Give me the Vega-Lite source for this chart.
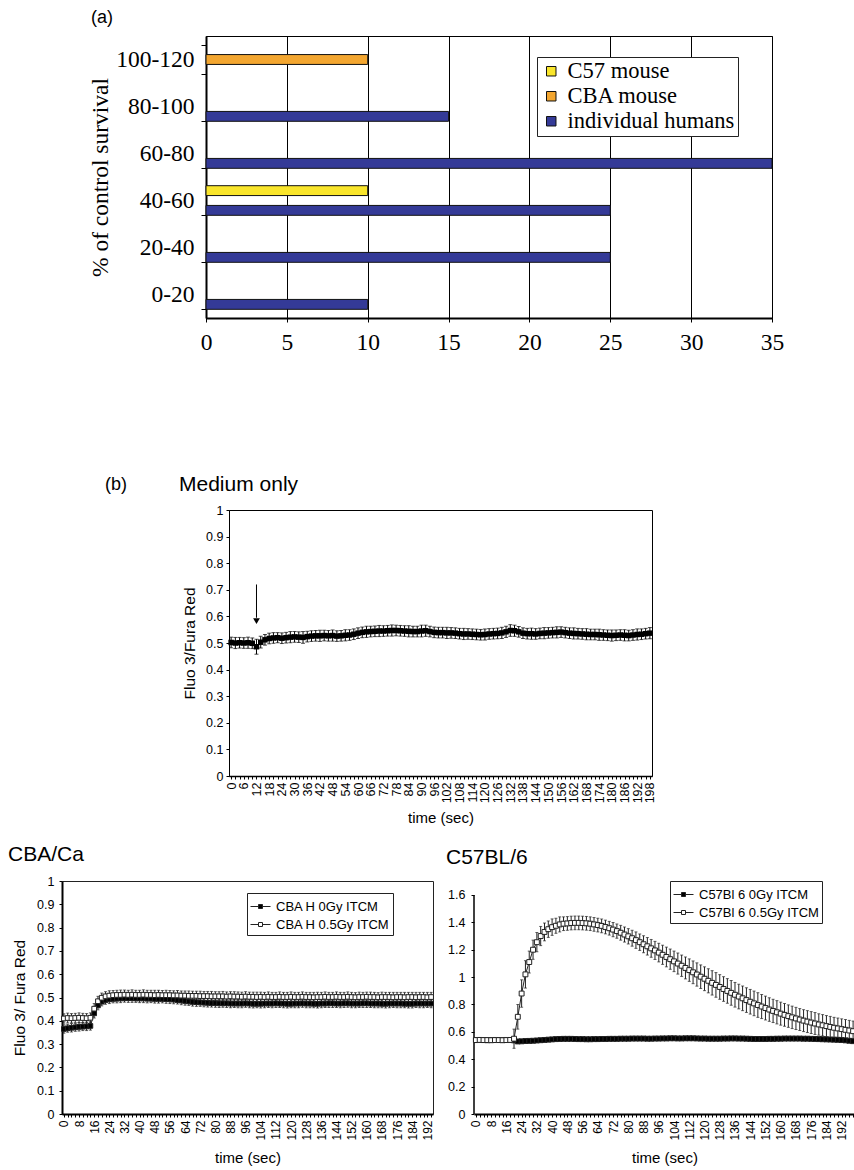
{
"$schema": "https://vega.github.io/schema/vega-lite/v6.json",
"background": "white",
"padding": {"left": 7, "top": 8, "right": 0, "bottom": 0},
"spacing": 16,
"resolve": {"scale": {"color": "independent", "fill": "independent"}, "legend": {"color": "independent", "fill": "independent"}},
"config": {
  "view": {"stroke": null},
  "font": "Liberation Sans",
  "axis": {"grid": false, "labelColor": "black", "titleColor": "black", "domainColor": "black", "tickColor": "black", "titleFontWeight": "normal", "labelFont": "Liberation Sans", "titleFont": "Liberation Sans"},
  "title": {"fontWeight": "normal", "color": "black", "font": "Liberation Sans"},
  "legend": {"labelColor": "black", "labelFont": "Liberation Sans"}
},
"vconcat": [
{
  "resolve": {"scale": {"color": "independent", "fill": "independent"}, "legend": {"color": "independent", "fill": "independent"}},
  "hconcat": [
    {"width": 144, "height": 1, "data": {"values": [{}]}, "mark": {"type": "point", "opacity": 0}},
    {
      "width": 566, "height": 282,
      "view": {"stroke": "black", "strokeWidth": 1},
      "title": {"text": "(a)", "anchor": "start", "frame": "group", "dx": -115, "offset": -17, "fontSize": 18, "baseline": "alphabetic"},
      "data": {"values": [
        {"range": "0-20", "group": "individual humans", "pct": 10},
        {"range": "20-40", "group": "individual humans", "pct": 25},
        {"range": "40-60", "group": "individual humans", "pct": 25},
        {"range": "40-60", "group": "C57 mouse", "pct": 10},
        {"range": "60-80", "group": "individual humans", "pct": 35},
        {"range": "80-100", "group": "individual humans", "pct": 15},
        {"range": "100-120", "group": "CBA mouse", "pct": 10}
      ]},
      "mark": {"type": "bar", "stroke": "#111", "strokeWidth": 1},
      "encoding": {
        "x": {"field": "pct", "type": "quantitative", "scale": {"domain": [0, 35], "nice": false},
              "axis": {"values": [0, 5, 10, 15, 20, 25, 30, 35], "grid": true, "gridColor": "black", "gridOpacity": 1, "gridWidth": 1,
                       "labelFont": "Liberation Serif", "labelFontSize": 23.5, "tickSize": 4, "labelPadding": 8, "domainWidth": 2, "labelFlush": false, "title": null}},
        "y": {"field": "range", "type": "nominal", "sort": ["100-120", "80-100", "60-80", "40-60", "20-40", "0-20"],
              "scale": {"paddingInner": 0.37, "paddingOuter": 0.185},
              "axis": {"tickBand": "extent", "tickSize": 5, "labelFont": "Liberation Serif", "labelFontSize": 23.5, "labelPadding": 7, "domainWidth": 2,
                       "title": "% of control survival", "titleFont": "Liberation Serif", "titleFontSize": 23.5, "titlePadding": 3}},
        "yOffset": {"field": "group", "type": "nominal", "sort": ["C57 mouse", "CBA mouse", "individual humans"]},
        "color": {"field": "group", "type": "nominal",
                  "scale": {"domain": ["C57 mouse", "CBA mouse", "individual humans"], "range": ["#f9e52b", "#f3a630", "#343a97"]},
                  "legend": {"title": null, "orient": "none", "legendX": 331, "legendY": 21, "strokeColor": "#222", "fillColor": "white", "padding": 3,
                             "labelFont": "Liberation Serif", "labelFontSize": 22.5, "symbolType": "square", "symbolSize": 90, "labelLimit": 300,
                             "symbolStrokeColor": "#111", "symbolStrokeWidth": 1, "rowPadding": 2, "labelOffset": 5}}
      }
    }
  ],
  "spacing": 0, "bounds": "flush"
},
{"width": 1, "height": 87, "data": {"values": [{}]}, "mark": {"type": "point", "opacity": 0}},
{
  "resolve": {"scale": {"color": "independent", "fill": "independent"}, "legend": {"color": "independent", "fill": "independent"}},
  "hconcat": [
    {"width": 167, "height": 1,
     "title": {"text": "(b)", "anchor": "start", "frame": "group", "dx": 43, "offset": 0, "fontSize": 18, "baseline": "alphabetic"},
     "data": {"values": [{}]}, "mark": {"type": "point", "opacity": 0}},
    {
      "width": 423, "height": 266,
      "view": {"stroke": "black", "strokeWidth": 1},
      "title": {"text": "Medium only", "anchor": "start", "frame": "group", "dx": -50, "offset": -8, "fontSize": 21, "baseline": "alphabetic"},
      "data": {"values": [
{"t":0,"m":0.502,"e":0.02},{"t":2,"m":0.5,"e":0.021},{"t":4,"m":0.501,"e":0.02},{"t":6,"m":0.5,"e":0.02},{"t":8,"m":0.501,"e":0.021},{"t":10,"m":0.499,"e":0.02},{"t":12,"m":0.486,"e":0.028},{"t":14,"m":0.503,"e":0.022},{"t":16,"m":0.512,"e":0.02},{"t":18,"m":0.517,"e":0.02},{"t":20,"m":0.519,"e":0.02},{"t":22,"m":0.52,"e":0.019},{"t":24,"m":0.518,"e":0.02},{"t":26,"m":0.52,"e":0.02},{"t":28,"m":0.522,"e":0.021},{"t":30,"m":0.523,"e":0.02},{"t":32,"m":0.522,"e":0.02},{"t":34,"m":0.521,"e":0.022},{"t":36,"m":0.524,"e":0.02},{"t":38,"m":0.526,"e":0.02},{"t":40,"m":0.527,"e":0.02},{"t":42,"m":0.527,"e":0.021},{"t":44,"m":0.528,"e":0.02},{"t":46,"m":0.527,"e":0.02},{"t":48,"m":0.528,"e":0.021},{"t":50,"m":0.526,"e":0.02},{"t":52,"m":0.527,"e":0.02},{"t":54,"m":0.529,"e":0.021},{"t":56,"m":0.53,"e":0.02},{"t":58,"m":0.533,"e":0.02},{"t":60,"m":0.537,"e":0.02},{"t":62,"m":0.54,"e":0.02},{"t":64,"m":0.542,"e":0.021},{"t":66,"m":0.543,"e":0.02},{"t":68,"m":0.544,"e":0.02},{"t":70,"m":0.545,"e":0.021},{"t":72,"m":0.545,"e":0.02},{"t":74,"m":0.546,"e":0.02},{"t":76,"m":0.547,"e":0.021},{"t":78,"m":0.547,"e":0.02},{"t":80,"m":0.546,"e":0.02},{"t":82,"m":0.545,"e":0.02},{"t":84,"m":0.544,"e":0.021},{"t":86,"m":0.543,"e":0.02},{"t":88,"m":0.543,"e":0.02},{"t":90,"m":0.545,"e":0.022},{"t":92,"m":0.546,"e":0.021},{"t":94,"m":0.543,"e":0.02},{"t":96,"m":0.54,"e":0.02},{"t":98,"m":0.539,"e":0.02},{"t":100,"m":0.539,"e":0.02},{"t":102,"m":0.538,"e":0.021},{"t":104,"m":0.538,"e":0.02},{"t":106,"m":0.537,"e":0.02},{"t":108,"m":0.535,"e":0.02},{"t":110,"m":0.534,"e":0.021},{"t":112,"m":0.534,"e":0.02},{"t":114,"m":0.533,"e":0.02},{"t":116,"m":0.532,"e":0.02},{"t":118,"m":0.531,"e":0.02},{"t":120,"m":0.532,"e":0.021},{"t":122,"m":0.534,"e":0.02},{"t":124,"m":0.535,"e":0.02},{"t":126,"m":0.536,"e":0.02},{"t":128,"m":0.538,"e":0.021},{"t":130,"m":0.542,"e":0.021},{"t":132,"m":0.547,"e":0.022},{"t":134,"m":0.546,"e":0.021},{"t":136,"m":0.542,"e":0.02},{"t":138,"m":0.537,"e":0.02},{"t":140,"m":0.535,"e":0.02},{"t":142,"m":0.535,"e":0.021},{"t":144,"m":0.534,"e":0.02},{"t":146,"m":0.536,"e":0.02},{"t":148,"m":0.537,"e":0.021},{"t":150,"m":0.538,"e":0.02},{"t":152,"m":0.539,"e":0.02},{"t":154,"m":0.54,"e":0.021},{"t":156,"m":0.541,"e":0.02},{"t":158,"m":0.539,"e":0.02},{"t":160,"m":0.537,"e":0.02},{"t":162,"m":0.536,"e":0.021},{"t":164,"m":0.535,"e":0.02},{"t":166,"m":0.534,"e":0.02},{"t":168,"m":0.533,"e":0.021},{"t":170,"m":0.532,"e":0.02},{"t":172,"m":0.532,"e":0.02},{"t":174,"m":0.531,"e":0.021},{"t":176,"m":0.53,"e":0.02},{"t":178,"m":0.529,"e":0.02},{"t":180,"m":0.528,"e":0.021},{"t":182,"m":0.529,"e":0.02},{"t":184,"m":0.53,"e":0.02},{"t":186,"m":0.529,"e":0.021},{"t":188,"m":0.528,"e":0.02},{"t":190,"m":0.53,"e":0.02},{"t":192,"m":0.532,"e":0.021},{"t":194,"m":0.533,"e":0.02},{"t":196,"m":0.535,"e":0.02},{"t":198,"m":0.537,"e":0.021}
      ]},
      "encoding": {
        "x": {"field": "t", "type": "quantitative", "title": "time (sec)", "scale": {"domain": [-1, 199], "nice": false, "zero": false},
              "axis": {"values": [0,2,4,6,8,10,12,14,16,18,20,22,24,26,28,30,32,34,36,38,40,42,44,46,48,50,52,54,56,58,60,62,64,66,68,70,72,74,76,78,80,82,84,86,88,90,92,94,96,98,100,102,104,106,108,110,112,114,116,118,120,122,124,126,128,130,132,134,136,138,140,142,144,146,148,150,152,154,156,158,160,162,164,166,168,170,172,174,176,178,180,182,184,186,188,190,192,194,196,198],
                       "labelExpr": "datum.value % 6 === 0 ? datum.label : ''", "labelAngle": 270, "labelFontSize": 12.5, "labelOverlap": false, "labelFlush": false, "labelBound": false,
                       "labelPadding": 3, "tickSize": 3, "domainWidth": 1.5, "titleFontSize": 15, "titlePadding": 8}},
        "y": {"field": "m", "type": "quantitative", "title": "Fluo 3/Fura Red", "scale": {"domain": [0, 1], "nice": false},
              "axis": {"values": [0,0.1,0.2,0.3,0.4,0.5,0.6,0.7,0.8,0.9,1], "format": "~g", "labelFontSize": 12.5, "labelPadding": 3, "tickSize": 3, "titleFontSize": 15.5, "titlePadding": 8}}
      },
      "layer": [
        {"mark": {"type": "errorbar", "ticks": {"size": 4}, "color": "black", "thickness": 1}, "encoding": {"yError": {"field": "e"}}},
        {"mark": {"type": "line", "color": "black", "strokeWidth": 1.5}},
        {"mark": {"type": "point", "shape": "square", "filled": true, "color": "black", "size": 30, "opacity": 1}},
        {"data": {"values": [{"t": 12, "a": 0.72, "b": 0.595}]}, "mark": {"type": "rule", "color": "black", "strokeWidth": 1},
         "encoding": {"y": {"field": "a", "type": "quantitative", "title": "Fluo 3/Fura Red"}, "y2": {"field": "b"}}},
        {"data": {"values": [{"t": 12, "c": 0.582}]}, "mark": {"type": "point", "shape": "triangle-down", "filled": true, "color": "black", "size": 45, "opacity": 1},
         "encoding": {"y": {"field": "c", "type": "quantitative", "title": "Fluo 3/Fura Red"}}}
      ]
    }
  ],
  "spacing": 0, "bounds": "flush"
},
{
  "resolve": {"scale": {"color": "independent", "fill": "independent"}, "legend": {"color": "independent", "fill": "independent"}},
  "hconcat": [
    {
      "width": 371, "height": 233,
      "view": {"stroke": "#222", "strokeWidth": 1},
      "title": {"text": "CBA/Ca", "anchor": "start", "frame": "group", "dx": -54, "offset": -6.5, "fontSize": 21, "baseline": "alphabetic"},
      "data": {"values": [
{"t":0,"s":"CBA H 0Gy ITCM","m":0.365,"e":0.018},{"t":2,"s":"CBA H 0Gy ITCM","m":0.368,"e":0.017},{"t":4,"s":"CBA H 0Gy ITCM","m":0.37,"e":0.018},{"t":6,"s":"CBA H 0Gy ITCM","m":0.372,"e":0.017},{"t":8,"s":"CBA H 0Gy ITCM","m":0.374,"e":0.018},{"t":10,"s":"CBA H 0Gy ITCM","m":0.375,"e":0.017},{"t":12,"s":"CBA H 0Gy ITCM","m":0.376,"e":0.018},{"t":14,"s":"CBA H 0Gy ITCM","m":0.378,"e":0.018},{"t":16,"s":"CBA H 0Gy ITCM","m":0.432,"e":0.02},{"t":18,"s":"CBA H 0Gy ITCM","m":0.466,"e":0.019},
{"t":20,"s":"CBA H 0Gy ITCM","m":0.482,"e":0.018},{"t":22,"s":"CBA H 0Gy ITCM","m":0.489,"e":0.018},{"t":24,"s":"CBA H 0Gy ITCM","m":0.492,"e":0.018},{"t":26,"s":"CBA H 0Gy ITCM","m":0.494,"e":0.017},{"t":28,"s":"CBA H 0Gy ITCM","m":0.495,"e":0.018},{"t":30,"s":"CBA H 0Gy ITCM","m":0.496,"e":0.018},{"t":32,"s":"CBA H 0Gy ITCM","m":0.497,"e":0.017},{"t":34,"s":"CBA H 0Gy ITCM","m":0.497,"e":0.018},{"t":36,"s":"CBA H 0Gy ITCM","m":0.497,"e":0.018},{"t":38,"s":"CBA H 0Gy ITCM","m":0.496,"e":0.017},
{"t":40,"s":"CBA H 0Gy ITCM","m":0.496,"e":0.018},{"t":42,"s":"CBA H 0Gy ITCM","m":0.496,"e":0.018},{"t":44,"s":"CBA H 0Gy ITCM","m":0.495,"e":0.018},{"t":46,"s":"CBA H 0Gy ITCM","m":0.495,"e":0.017},{"t":48,"s":"CBA H 0Gy ITCM","m":0.494,"e":0.018},{"t":50,"s":"CBA H 0Gy ITCM","m":0.494,"e":0.018},{"t":52,"s":"CBA H 0Gy ITCM","m":0.494,"e":0.017},{"t":54,"s":"CBA H 0Gy ITCM","m":0.493,"e":0.018},{"t":56,"s":"CBA H 0Gy ITCM","m":0.492,"e":0.018},{"t":58,"s":"CBA H 0Gy ITCM","m":0.491,"e":0.018},
{"t":60,"s":"CBA H 0Gy ITCM","m":0.489,"e":0.017},{"t":62,"s":"CBA H 0Gy ITCM","m":0.487,"e":0.018},{"t":64,"s":"CBA H 0Gy ITCM","m":0.485,"e":0.018},{"t":66,"s":"CBA H 0Gy ITCM","m":0.483,"e":0.017},{"t":68,"s":"CBA H 0Gy ITCM","m":0.481,"e":0.018},{"t":70,"s":"CBA H 0Gy ITCM","m":0.48,"e":0.018},{"t":72,"s":"CBA H 0Gy ITCM","m":0.479,"e":0.017},{"t":74,"s":"CBA H 0Gy ITCM","m":0.478,"e":0.018},{"t":76,"s":"CBA H 0Gy ITCM","m":0.477,"e":0.018},{"t":78,"s":"CBA H 0Gy ITCM","m":0.476,"e":0.017},
{"t":80,"s":"CBA H 0Gy ITCM","m":0.476,"e":0.018},{"t":82,"s":"CBA H 0Gy ITCM","m":0.475,"e":0.018},{"t":84,"s":"CBA H 0Gy ITCM","m":0.475,"e":0.017},{"t":86,"s":"CBA H 0Gy ITCM","m":0.475,"e":0.018},{"t":88,"s":"CBA H 0Gy ITCM","m":0.474,"e":0.018},{"t":90,"s":"CBA H 0Gy ITCM","m":0.474,"e":0.017},{"t":92,"s":"CBA H 0Gy ITCM","m":0.474,"e":0.018},{"t":94,"s":"CBA H 0Gy ITCM","m":0.474,"e":0.018},{"t":96,"s":"CBA H 0Gy ITCM","m":0.475,"e":0.017},{"t":98,"s":"CBA H 0Gy ITCM","m":0.474,"e":0.018},
{"t":100,"s":"CBA H 0Gy ITCM","m":0.473,"e":0.018},{"t":102,"s":"CBA H 0Gy ITCM","m":0.473,"e":0.017},{"t":104,"s":"CBA H 0Gy ITCM","m":0.473,"e":0.018},{"t":106,"s":"CBA H 0Gy ITCM","m":0.474,"e":0.018},{"t":108,"s":"CBA H 0Gy ITCM","m":0.474,"e":0.017},{"t":110,"s":"CBA H 0Gy ITCM","m":0.474,"e":0.018},{"t":112,"s":"CBA H 0Gy ITCM","m":0.475,"e":0.018},{"t":114,"s":"CBA H 0Gy ITCM","m":0.474,"e":0.017},{"t":116,"s":"CBA H 0Gy ITCM","m":0.474,"e":0.018},{"t":118,"s":"CBA H 0Gy ITCM","m":0.473,"e":0.018},
{"t":120,"s":"CBA H 0Gy ITCM","m":0.473,"e":0.017},{"t":122,"s":"CBA H 0Gy ITCM","m":0.474,"e":0.018},{"t":124,"s":"CBA H 0Gy ITCM","m":0.474,"e":0.018},{"t":126,"s":"CBA H 0Gy ITCM","m":0.475,"e":0.017},{"t":128,"s":"CBA H 0Gy ITCM","m":0.474,"e":0.018},{"t":130,"s":"CBA H 0Gy ITCM","m":0.474,"e":0.018},{"t":132,"s":"CBA H 0Gy ITCM","m":0.473,"e":0.017},{"t":134,"s":"CBA H 0Gy ITCM","m":0.473,"e":0.018},{"t":136,"s":"CBA H 0Gy ITCM","m":0.474,"e":0.018},{"t":138,"s":"CBA H 0Gy ITCM","m":0.474,"e":0.017},
{"t":140,"s":"CBA H 0Gy ITCM","m":0.475,"e":0.018},{"t":142,"s":"CBA H 0Gy ITCM","m":0.475,"e":0.018},{"t":144,"s":"CBA H 0Gy ITCM","m":0.474,"e":0.017},{"t":146,"s":"CBA H 0Gy ITCM","m":0.474,"e":0.018},{"t":148,"s":"CBA H 0Gy ITCM","m":0.475,"e":0.018},{"t":150,"s":"CBA H 0Gy ITCM","m":0.475,"e":0.017},{"t":152,"s":"CBA H 0Gy ITCM","m":0.474,"e":0.018},{"t":154,"s":"CBA H 0Gy ITCM","m":0.474,"e":0.018},{"t":156,"s":"CBA H 0Gy ITCM","m":0.474,"e":0.017},{"t":158,"s":"CBA H 0Gy ITCM","m":0.475,"e":0.018},
{"t":160,"s":"CBA H 0Gy ITCM","m":0.475,"e":0.018},{"t":162,"s":"CBA H 0Gy ITCM","m":0.474,"e":0.017},{"t":164,"s":"CBA H 0Gy ITCM","m":0.474,"e":0.018},{"t":166,"s":"CBA H 0Gy ITCM","m":0.474,"e":0.018},{"t":168,"s":"CBA H 0Gy ITCM","m":0.473,"e":0.017},{"t":170,"s":"CBA H 0Gy ITCM","m":0.473,"e":0.018},{"t":172,"s":"CBA H 0Gy ITCM","m":0.474,"e":0.018},{"t":174,"s":"CBA H 0Gy ITCM","m":0.474,"e":0.017},{"t":176,"s":"CBA H 0Gy ITCM","m":0.474,"e":0.018},{"t":178,"s":"CBA H 0Gy ITCM","m":0.474,"e":0.018},
{"t":180,"s":"CBA H 0Gy ITCM","m":0.473,"e":0.017},{"t":182,"s":"CBA H 0Gy ITCM","m":0.473,"e":0.018},{"t":184,"s":"CBA H 0Gy ITCM","m":0.473,"e":0.018},{"t":186,"s":"CBA H 0Gy ITCM","m":0.474,"e":0.017},{"t":188,"s":"CBA H 0Gy ITCM","m":0.474,"e":0.018},{"t":190,"s":"CBA H 0Gy ITCM","m":0.474,"e":0.018},{"t":192,"s":"CBA H 0Gy ITCM","m":0.474,"e":0.017},{"t":194,"s":"CBA H 0Gy ITCM","m":0.474,"e":0.018},
{"t":0,"s":"CBA H 0.5Gy ITCM","m":0.41,"e":0.02},{"t":2,"s":"CBA H 0.5Gy ITCM","m":0.412,"e":0.021},{"t":4,"s":"CBA H 0.5Gy ITCM","m":0.411,"e":0.02},{"t":6,"s":"CBA H 0.5Gy ITCM","m":0.412,"e":0.02},{"t":8,"s":"CBA H 0.5Gy ITCM","m":0.413,"e":0.021},{"t":10,"s":"CBA H 0.5Gy ITCM","m":0.412,"e":0.02},{"t":12,"s":"CBA H 0.5Gy ITCM","m":0.411,"e":0.02},{"t":14,"s":"CBA H 0.5Gy ITCM","m":0.413,"e":0.021},{"t":16,"s":"CBA H 0.5Gy ITCM","m":0.452,"e":0.022},{"t":18,"s":"CBA H 0.5Gy ITCM","m":0.484,"e":0.021},
{"t":20,"s":"CBA H 0.5Gy ITCM","m":0.499,"e":0.02},{"t":22,"s":"CBA H 0.5Gy ITCM","m":0.505,"e":0.02},{"t":24,"s":"CBA H 0.5Gy ITCM","m":0.508,"e":0.021},{"t":26,"s":"CBA H 0.5Gy ITCM","m":0.51,"e":0.02},{"t":28,"s":"CBA H 0.5Gy ITCM","m":0.511,"e":0.02},{"t":30,"s":"CBA H 0.5Gy ITCM","m":0.511,"e":0.021},{"t":32,"s":"CBA H 0.5Gy ITCM","m":0.512,"e":0.02},{"t":34,"s":"CBA H 0.5Gy ITCM","m":0.511,"e":0.02},{"t":36,"s":"CBA H 0.5Gy ITCM","m":0.512,"e":0.021},{"t":38,"s":"CBA H 0.5Gy ITCM","m":0.511,"e":0.02},
{"t":40,"s":"CBA H 0.5Gy ITCM","m":0.511,"e":0.02},{"t":42,"s":"CBA H 0.5Gy ITCM","m":0.512,"e":0.021},{"t":44,"s":"CBA H 0.5Gy ITCM","m":0.511,"e":0.02},{"t":46,"s":"CBA H 0.5Gy ITCM","m":0.511,"e":0.02},{"t":48,"s":"CBA H 0.5Gy ITCM","m":0.51,"e":0.021},{"t":50,"s":"CBA H 0.5Gy ITCM","m":0.511,"e":0.02},{"t":52,"s":"CBA H 0.5Gy ITCM","m":0.51,"e":0.02},{"t":54,"s":"CBA H 0.5Gy ITCM","m":0.51,"e":0.021},{"t":56,"s":"CBA H 0.5Gy ITCM","m":0.51,"e":0.02},{"t":58,"s":"CBA H 0.5Gy ITCM","m":0.509,"e":0.02},
{"t":60,"s":"CBA H 0.5Gy ITCM","m":0.509,"e":0.021},{"t":62,"s":"CBA H 0.5Gy ITCM","m":0.508,"e":0.02},{"t":64,"s":"CBA H 0.5Gy ITCM","m":0.508,"e":0.02},{"t":66,"s":"CBA H 0.5Gy ITCM","m":0.507,"e":0.021},{"t":68,"s":"CBA H 0.5Gy ITCM","m":0.507,"e":0.02},{"t":70,"s":"CBA H 0.5Gy ITCM","m":0.507,"e":0.02},{"t":72,"s":"CBA H 0.5Gy ITCM","m":0.506,"e":0.021},{"t":74,"s":"CBA H 0.5Gy ITCM","m":0.506,"e":0.02},{"t":76,"s":"CBA H 0.5Gy ITCM","m":0.506,"e":0.02},{"t":78,"s":"CBA H 0.5Gy ITCM","m":0.505,"e":0.021},
{"t":80,"s":"CBA H 0.5Gy ITCM","m":0.505,"e":0.02},{"t":82,"s":"CBA H 0.5Gy ITCM","m":0.505,"e":0.02},{"t":84,"s":"CBA H 0.5Gy ITCM","m":0.505,"e":0.021},{"t":86,"s":"CBA H 0.5Gy ITCM","m":0.504,"e":0.02},{"t":88,"s":"CBA H 0.5Gy ITCM","m":0.505,"e":0.02},{"t":90,"s":"CBA H 0.5Gy ITCM","m":0.504,"e":0.021},{"t":92,"s":"CBA H 0.5Gy ITCM","m":0.504,"e":0.02},{"t":94,"s":"CBA H 0.5Gy ITCM","m":0.503,"e":0.02},{"t":96,"s":"CBA H 0.5Gy ITCM","m":0.504,"e":0.021},{"t":98,"s":"CBA H 0.5Gy ITCM","m":0.503,"e":0.02},
{"t":100,"s":"CBA H 0.5Gy ITCM","m":0.503,"e":0.02},{"t":102,"s":"CBA H 0.5Gy ITCM","m":0.502,"e":0.021},{"t":104,"s":"CBA H 0.5Gy ITCM","m":0.503,"e":0.02},{"t":106,"s":"CBA H 0.5Gy ITCM","m":0.502,"e":0.02},{"t":108,"s":"CBA H 0.5Gy ITCM","m":0.503,"e":0.021},{"t":110,"s":"CBA H 0.5Gy ITCM","m":0.502,"e":0.02},{"t":112,"s":"CBA H 0.5Gy ITCM","m":0.502,"e":0.02},{"t":114,"s":"CBA H 0.5Gy ITCM","m":0.503,"e":0.021},{"t":116,"s":"CBA H 0.5Gy ITCM","m":0.502,"e":0.02},{"t":118,"s":"CBA H 0.5Gy ITCM","m":0.502,"e":0.02},
{"t":120,"s":"CBA H 0.5Gy ITCM","m":0.503,"e":0.021},{"t":122,"s":"CBA H 0.5Gy ITCM","m":0.502,"e":0.02},{"t":124,"s":"CBA H 0.5Gy ITCM","m":0.502,"e":0.02},{"t":126,"s":"CBA H 0.5Gy ITCM","m":0.503,"e":0.021},{"t":128,"s":"CBA H 0.5Gy ITCM","m":0.502,"e":0.02},{"t":130,"s":"CBA H 0.5Gy ITCM","m":0.502,"e":0.02},{"t":132,"s":"CBA H 0.5Gy ITCM","m":0.501,"e":0.021},{"t":134,"s":"CBA H 0.5Gy ITCM","m":0.502,"e":0.02},{"t":136,"s":"CBA H 0.5Gy ITCM","m":0.502,"e":0.02},{"t":138,"s":"CBA H 0.5Gy ITCM","m":0.503,"e":0.021},
{"t":140,"s":"CBA H 0.5Gy ITCM","m":0.502,"e":0.02},{"t":142,"s":"CBA H 0.5Gy ITCM","m":0.502,"e":0.02},{"t":144,"s":"CBA H 0.5Gy ITCM","m":0.503,"e":0.021},{"t":146,"s":"CBA H 0.5Gy ITCM","m":0.502,"e":0.02},{"t":148,"s":"CBA H 0.5Gy ITCM","m":0.502,"e":0.02},{"t":150,"s":"CBA H 0.5Gy ITCM","m":0.503,"e":0.021},{"t":152,"s":"CBA H 0.5Gy ITCM","m":0.502,"e":0.02},{"t":154,"s":"CBA H 0.5Gy ITCM","m":0.501,"e":0.02},{"t":156,"s":"CBA H 0.5Gy ITCM","m":0.502,"e":0.021},{"t":158,"s":"CBA H 0.5Gy ITCM","m":0.502,"e":0.02},
{"t":160,"s":"CBA H 0.5Gy ITCM","m":0.503,"e":0.02},{"t":162,"s":"CBA H 0.5Gy ITCM","m":0.502,"e":0.021},{"t":164,"s":"CBA H 0.5Gy ITCM","m":0.502,"e":0.02},{"t":166,"s":"CBA H 0.5Gy ITCM","m":0.501,"e":0.02},{"t":168,"s":"CBA H 0.5Gy ITCM","m":0.502,"e":0.021},{"t":170,"s":"CBA H 0.5Gy ITCM","m":0.502,"e":0.02},{"t":172,"s":"CBA H 0.5Gy ITCM","m":0.502,"e":0.02},{"t":174,"s":"CBA H 0.5Gy ITCM","m":0.501,"e":0.021},{"t":176,"s":"CBA H 0.5Gy ITCM","m":0.502,"e":0.02},{"t":178,"s":"CBA H 0.5Gy ITCM","m":0.502,"e":0.02},
{"t":180,"s":"CBA H 0.5Gy ITCM","m":0.501,"e":0.021},{"t":182,"s":"CBA H 0.5Gy ITCM","m":0.502,"e":0.02},{"t":184,"s":"CBA H 0.5Gy ITCM","m":0.502,"e":0.02},{"t":186,"s":"CBA H 0.5Gy ITCM","m":0.501,"e":0.021},{"t":188,"s":"CBA H 0.5Gy ITCM","m":0.502,"e":0.02},{"t":190,"s":"CBA H 0.5Gy ITCM","m":0.502,"e":0.02},{"t":192,"s":"CBA H 0.5Gy ITCM","m":0.501,"e":0.021},{"t":194,"s":"CBA H 0.5Gy ITCM","m":0.502,"e":0.02}
      ]},
      "encoding": {
        "x": {"field": "t", "type": "quantitative", "title": "time (sec)", "scale": {"domain": [-1, 195], "nice": false, "zero": false},
              "axis": {"values": [0,2,4,6,8,10,12,14,16,18,20,22,24,26,28,30,32,34,36,38,40,42,44,46,48,50,52,54,56,58,60,62,64,66,68,70,72,74,76,78,80,82,84,86,88,90,92,94,96,98,100,102,104,106,108,110,112,114,116,118,120,122,124,126,128,130,132,134,136,138,140,142,144,146,148,150,152,154,156,158,160,162,164,166,168,170,172,174,176,178,180,182,184,186,188,190,192,194],
                       "labelExpr": "datum.value % 8 === 0 ? datum.label : ''", "labelAngle": 270, "labelFontSize": 12, "labelOverlap": false, "labelFlush": false, "labelBound": false,
                       "labelPadding": 3, "tickSize": 3, "domainWidth": 2, "titleFontSize": 15, "titlePadding": 10}},
        "y": {"field": "m", "type": "quantitative", "title": "Fluo 3/ Fura Red", "scale": {"domain": [0, 1], "nice": false},
              "axis": {"values": [0,0.1,0.2,0.3,0.4,0.5,0.6,0.7,0.8,0.9,1], "format": "~g", "labelFontSize": 12.5, "labelPadding": 5, "tickSize": 3, "domainWidth": 2, "titleFontSize": 15.5, "titlePadding": 9}}
      },
      "layer": [
        {"mark": {"type": "errorbar", "ticks": {"size": 3}, "thickness": 1, "color": "#222"},
         "encoding": {"yError": {"field": "e"}}},
        {"mark": {"type": "line", "strokeWidth": 1, "color": "#222"},
         "encoding": {"detail": {"field": "s", "type": "nominal"}}},
        {"mark": {"type": "point", "shape": "square", "size": 22, "stroke": "#222", "strokeWidth": 1, "opacity": 1},
         "encoding": {"fill": {"field": "s", "type": "nominal", "scale": {"domain": ["CBA H 0Gy ITCM", "CBA H 0.5Gy ITCM"], "range": ["black", "white"]},
                               "legend": {"title": null, "orient": "none", "legendX": 185, "legendY": 12, "strokeColor": "#222", "fillColor": "white", "padding": 3,
                                          "symbolType": "M-1,0H-0.2M0.2,0H1M-0.2,-0.2H0.2V0.2H-0.2Z", "symbolSize": 400, "symbolStrokeColor": "#222", "symbolStrokeWidth": 1,
                                          "labelFontSize": 13, "labelOffset": 5, "rowPadding": 0, "labelLimit": 300}}}}
      ]
    },
    {
      "width": 381, "height": 233,
      "title": {"text": "C57BL/6", "anchor": "start", "frame": "group", "dx": -28, "offset": -4.5, "fontSize": 21, "baseline": "alphabetic"},
      "data": {"values": [
{"t":0,"s":"C57Bl 6 0Gy ITCM","m":0.54,"e":0.012},{"t":2,"s":"C57Bl 6 0Gy ITCM","m":0.541,"e":0.012},{"t":4,"s":"C57Bl 6 0Gy ITCM","m":0.54,"e":0.012},{"t":6,"s":"C57Bl 6 0Gy ITCM","m":0.539,"e":0.012},{"t":8,"s":"C57Bl 6 0Gy ITCM","m":0.54,"e":0.012},{"t":10,"s":"C57Bl 6 0Gy ITCM","m":0.541,"e":0.012},{"t":12,"s":"C57Bl 6 0Gy ITCM","m":0.54,"e":0.012},{"t":14,"s":"C57Bl 6 0Gy ITCM","m":0.54,"e":0.012},{"t":16,"s":"C57Bl 6 0Gy ITCM","m":0.541,"e":0.012},{"t":18,"s":"C57Bl 6 0Gy ITCM","m":0.54,"e":0.012},
{"t":20,"s":"C57Bl 6 0Gy ITCM","m":0.538,"e":0.013},{"t":22,"s":"C57Bl 6 0Gy ITCM","m":0.53,"e":0.013},{"t":24,"s":"C57Bl 6 0Gy ITCM","m":0.531,"e":0.012},{"t":26,"s":"C57Bl 6 0Gy ITCM","m":0.533,"e":0.012},{"t":28,"s":"C57Bl 6 0Gy ITCM","m":0.534,"e":0.012},{"t":30,"s":"C57Bl 6 0Gy ITCM","m":0.535,"e":0.012},{"t":32,"s":"C57Bl 6 0Gy ITCM","m":0.537,"e":0.012},{"t":34,"s":"C57Bl 6 0Gy ITCM","m":0.539,"e":0.012},{"t":36,"s":"C57Bl 6 0Gy ITCM","m":0.541,"e":0.012},{"t":38,"s":"C57Bl 6 0Gy ITCM","m":0.543,"e":0.012},
{"t":40,"s":"C57Bl 6 0Gy ITCM","m":0.545,"e":0.012},{"t":42,"s":"C57Bl 6 0Gy ITCM","m":0.547,"e":0.012},{"t":44,"s":"C57Bl 6 0Gy ITCM","m":0.548,"e":0.012},{"t":46,"s":"C57Bl 6 0Gy ITCM","m":0.549,"e":0.012},{"t":48,"s":"C57Bl 6 0Gy ITCM","m":0.549,"e":0.012},{"t":50,"s":"C57Bl 6 0Gy ITCM","m":0.549,"e":0.012},{"t":52,"s":"C57Bl 6 0Gy ITCM","m":0.548,"e":0.012},{"t":54,"s":"C57Bl 6 0Gy ITCM","m":0.547,"e":0.012},{"t":56,"s":"C57Bl 6 0Gy ITCM","m":0.547,"e":0.012},{"t":58,"s":"C57Bl 6 0Gy ITCM","m":0.546,"e":0.012},
{"t":60,"s":"C57Bl 6 0Gy ITCM","m":0.546,"e":0.012},{"t":62,"s":"C57Bl 6 0Gy ITCM","m":0.547,"e":0.012},{"t":64,"s":"C57Bl 6 0Gy ITCM","m":0.547,"e":0.012},{"t":66,"s":"C57Bl 6 0Gy ITCM","m":0.548,"e":0.012},{"t":68,"s":"C57Bl 6 0Gy ITCM","m":0.548,"e":0.012},{"t":70,"s":"C57Bl 6 0Gy ITCM","m":0.549,"e":0.012},{"t":72,"s":"C57Bl 6 0Gy ITCM","m":0.549,"e":0.012},{"t":74,"s":"C57Bl 6 0Gy ITCM","m":0.549,"e":0.012},{"t":76,"s":"C57Bl 6 0Gy ITCM","m":0.55,"e":0.012},{"t":78,"s":"C57Bl 6 0Gy ITCM","m":0.55,"e":0.012},
{"t":80,"s":"C57Bl 6 0Gy ITCM","m":0.55,"e":0.012},{"t":82,"s":"C57Bl 6 0Gy ITCM","m":0.551,"e":0.012},{"t":84,"s":"C57Bl 6 0Gy ITCM","m":0.551,"e":0.012},{"t":86,"s":"C57Bl 6 0Gy ITCM","m":0.551,"e":0.012},{"t":88,"s":"C57Bl 6 0Gy ITCM","m":0.551,"e":0.012},{"t":90,"s":"C57Bl 6 0Gy ITCM","m":0.55,"e":0.012},{"t":92,"s":"C57Bl 6 0Gy ITCM","m":0.55,"e":0.012},{"t":94,"s":"C57Bl 6 0Gy ITCM","m":0.551,"e":0.012},{"t":96,"s":"C57Bl 6 0Gy ITCM","m":0.551,"e":0.012},{"t":98,"s":"C57Bl 6 0Gy ITCM","m":0.552,"e":0.012},
{"t":100,"s":"C57Bl 6 0Gy ITCM","m":0.552,"e":0.012},{"t":102,"s":"C57Bl 6 0Gy ITCM","m":0.553,"e":0.012},{"t":104,"s":"C57Bl 6 0Gy ITCM","m":0.553,"e":0.012},{"t":106,"s":"C57Bl 6 0Gy ITCM","m":0.552,"e":0.012},{"t":108,"s":"C57Bl 6 0Gy ITCM","m":0.552,"e":0.012},{"t":110,"s":"C57Bl 6 0Gy ITCM","m":0.553,"e":0.012},{"t":112,"s":"C57Bl 6 0Gy ITCM","m":0.553,"e":0.012},{"t":114,"s":"C57Bl 6 0Gy ITCM","m":0.553,"e":0.012},{"t":116,"s":"C57Bl 6 0Gy ITCM","m":0.552,"e":0.012},{"t":118,"s":"C57Bl 6 0Gy ITCM","m":0.551,"e":0.012},
{"t":120,"s":"C57Bl 6 0Gy ITCM","m":0.551,"e":0.012},{"t":122,"s":"C57Bl 6 0Gy ITCM","m":0.55,"e":0.012},{"t":124,"s":"C57Bl 6 0Gy ITCM","m":0.55,"e":0.012},{"t":126,"s":"C57Bl 6 0Gy ITCM","m":0.55,"e":0.012},{"t":128,"s":"C57Bl 6 0Gy ITCM","m":0.55,"e":0.012},{"t":130,"s":"C57Bl 6 0Gy ITCM","m":0.551,"e":0.012},{"t":132,"s":"C57Bl 6 0Gy ITCM","m":0.551,"e":0.012},{"t":134,"s":"C57Bl 6 0Gy ITCM","m":0.552,"e":0.012},{"t":136,"s":"C57Bl 6 0Gy ITCM","m":0.552,"e":0.012},{"t":138,"s":"C57Bl 6 0Gy ITCM","m":0.551,"e":0.012},
{"t":140,"s":"C57Bl 6 0Gy ITCM","m":0.551,"e":0.012},{"t":142,"s":"C57Bl 6 0Gy ITCM","m":0.55,"e":0.012},{"t":144,"s":"C57Bl 6 0Gy ITCM","m":0.549,"e":0.012},{"t":146,"s":"C57Bl 6 0Gy ITCM","m":0.548,"e":0.012},{"t":148,"s":"C57Bl 6 0Gy ITCM","m":0.548,"e":0.012},{"t":150,"s":"C57Bl 6 0Gy ITCM","m":0.548,"e":0.012},{"t":152,"s":"C57Bl 6 0Gy ITCM","m":0.548,"e":0.012},{"t":154,"s":"C57Bl 6 0Gy ITCM","m":0.549,"e":0.012},{"t":156,"s":"C57Bl 6 0Gy ITCM","m":0.549,"e":0.012},{"t":158,"s":"C57Bl 6 0Gy ITCM","m":0.55,"e":0.012},
{"t":160,"s":"C57Bl 6 0Gy ITCM","m":0.55,"e":0.012},{"t":162,"s":"C57Bl 6 0Gy ITCM","m":0.551,"e":0.012},{"t":164,"s":"C57Bl 6 0Gy ITCM","m":0.551,"e":0.012},{"t":166,"s":"C57Bl 6 0Gy ITCM","m":0.551,"e":0.012},{"t":168,"s":"C57Bl 6 0Gy ITCM","m":0.551,"e":0.012},{"t":170,"s":"C57Bl 6 0Gy ITCM","m":0.551,"e":0.012},{"t":172,"s":"C57Bl 6 0Gy ITCM","m":0.55,"e":0.012},{"t":174,"s":"C57Bl 6 0Gy ITCM","m":0.55,"e":0.012},{"t":176,"s":"C57Bl 6 0Gy ITCM","m":0.549,"e":0.012},{"t":178,"s":"C57Bl 6 0Gy ITCM","m":0.548,"e":0.012},
{"t":180,"s":"C57Bl 6 0Gy ITCM","m":0.547,"e":0.012},{"t":182,"s":"C57Bl 6 0Gy ITCM","m":0.546,"e":0.012},{"t":184,"s":"C57Bl 6 0Gy ITCM","m":0.545,"e":0.012},{"t":186,"s":"C57Bl 6 0Gy ITCM","m":0.544,"e":0.012},{"t":188,"s":"C57Bl 6 0Gy ITCM","m":0.543,"e":0.012},{"t":190,"s":"C57Bl 6 0Gy ITCM","m":0.542,"e":0.012},{"t":192,"s":"C57Bl 6 0Gy ITCM","m":0.54,"e":0.012},{"t":194,"s":"C57Bl 6 0Gy ITCM","m":0.538,"e":0.012},{"t":196,"s":"C57Bl 6 0Gy ITCM","m":0.535,"e":0.012},{"t":198,"s":"C57Bl 6 0Gy ITCM","m":0.532,"e":0.012},
{"t":0,"s":"C57Bl 6 0.5Gy ITCM","m":0.54,"e":0.012},{"t":2,"s":"C57Bl 6 0.5Gy ITCM","m":0.541,"e":0.012},{"t":4,"s":"C57Bl 6 0.5Gy ITCM","m":0.54,"e":0.012},{"t":6,"s":"C57Bl 6 0.5Gy ITCM","m":0.54,"e":0.012},{"t":8,"s":"C57Bl 6 0.5Gy ITCM","m":0.539,"e":0.012},{"t":10,"s":"C57Bl 6 0.5Gy ITCM","m":0.54,"e":0.012},{"t":12,"s":"C57Bl 6 0.5Gy ITCM","m":0.54,"e":0.012},{"t":14,"s":"C57Bl 6 0.5Gy ITCM","m":0.539,"e":0.012},{"t":16,"s":"C57Bl 6 0.5Gy ITCM","m":0.54,"e":0.012},{"t":18,"s":"C57Bl 6 0.5Gy ITCM","m":0.541,"e":0.015},
{"t":20,"s":"C57Bl 6 0.5Gy ITCM","m":0.55,"e":0.07},{"t":22,"s":"C57Bl 6 0.5Gy ITCM","m":0.71,"e":0.09},{"t":24,"s":"C57Bl 6 0.5Gy ITCM","m":0.88,"e":0.1},{"t":26,"s":"C57Bl 6 0.5Gy ITCM","m":1.02,"e":0.1},{"t":28,"s":"C57Bl 6 0.5Gy ITCM","m":1.11,"e":0.08},{"t":30,"s":"C57Bl 6 0.5Gy ITCM","m":1.2,"e":0.07},{"t":32,"s":"C57Bl 6 0.5Gy ITCM","m":1.255,"e":0.07},{"t":34,"s":"C57Bl 6 0.5Gy ITCM","m":1.3,"e":0.07},{"t":36,"s":"C57Bl 6 0.5Gy ITCM","m":1.33,"e":0.065},{"t":38,"s":"C57Bl 6 0.5Gy ITCM","m":1.35,"e":0.06},
{"t":40,"s":"C57Bl 6 0.5Gy ITCM","m":1.365,"e":0.06},{"t":42,"s":"C57Bl 6 0.5Gy ITCM","m":1.375,"e":0.055},{"t":44,"s":"C57Bl 6 0.5Gy ITCM","m":1.385,"e":0.055},{"t":46,"s":"C57Bl 6 0.5Gy ITCM","m":1.39,"e":0.05},{"t":48,"s":"C57Bl 6 0.5Gy ITCM","m":1.392,"e":0.05},{"t":50,"s":"C57Bl 6 0.5Gy ITCM","m":1.395,"e":0.05},{"t":52,"s":"C57Bl 6 0.5Gy ITCM","m":1.396,"e":0.05},{"t":54,"s":"C57Bl 6 0.5Gy ITCM","m":1.396,"e":0.05},{"t":56,"s":"C57Bl 6 0.5Gy ITCM","m":1.395,"e":0.05},{"t":58,"s":"C57Bl 6 0.5Gy ITCM","m":1.393,"e":0.05},
{"t":60,"s":"C57Bl 6 0.5Gy ITCM","m":1.39,"e":0.05},{"t":62,"s":"C57Bl 6 0.5Gy ITCM","m":1.385,"e":0.05},{"t":64,"s":"C57Bl 6 0.5Gy ITCM","m":1.38,"e":0.05},{"t":66,"s":"C57Bl 6 0.5Gy ITCM","m":1.374,"e":0.05},{"t":68,"s":"C57Bl 6 0.5Gy ITCM","m":1.366,"e":0.05},{"t":70,"s":"C57Bl 6 0.5Gy ITCM","m":1.357,"e":0.05},{"t":72,"s":"C57Bl 6 0.5Gy ITCM","m":1.347,"e":0.052},{"t":74,"s":"C57Bl 6 0.5Gy ITCM","m":1.336,"e":0.052},{"t":76,"s":"C57Bl 6 0.5Gy ITCM","m":1.324,"e":0.054},{"t":78,"s":"C57Bl 6 0.5Gy ITCM","m":1.311,"e":0.055},
{"t":80,"s":"C57Bl 6 0.5Gy ITCM","m":1.298,"e":0.056},{"t":82,"s":"C57Bl 6 0.5Gy ITCM","m":1.284,"e":0.058},{"t":84,"s":"C57Bl 6 0.5Gy ITCM","m":1.27,"e":0.06},{"t":86,"s":"C57Bl 6 0.5Gy ITCM","m":1.255,"e":0.06},{"t":88,"s":"C57Bl 6 0.5Gy ITCM","m":1.24,"e":0.062},{"t":90,"s":"C57Bl 6 0.5Gy ITCM","m":1.225,"e":0.064},{"t":92,"s":"C57Bl 6 0.5Gy ITCM","m":1.21,"e":0.065},{"t":94,"s":"C57Bl 6 0.5Gy ITCM","m":1.195,"e":0.066},{"t":96,"s":"C57Bl 6 0.5Gy ITCM","m":1.179,"e":0.068},{"t":98,"s":"C57Bl 6 0.5Gy ITCM","m":1.163,"e":0.07},
{"t":100,"s":"C57Bl 6 0.5Gy ITCM","m":1.147,"e":0.072},{"t":102,"s":"C57Bl 6 0.5Gy ITCM","m":1.131,"e":0.074},{"t":104,"s":"C57Bl 6 0.5Gy ITCM","m":1.115,"e":0.075},{"t":106,"s":"C57Bl 6 0.5Gy ITCM","m":1.099,"e":0.077},{"t":108,"s":"C57Bl 6 0.5Gy ITCM","m":1.083,"e":0.078},{"t":110,"s":"C57Bl 6 0.5Gy ITCM","m":1.067,"e":0.08},{"t":112,"s":"C57Bl 6 0.5Gy ITCM","m":1.051,"e":0.082},{"t":114,"s":"C57Bl 6 0.5Gy ITCM","m":1.035,"e":0.083},{"t":116,"s":"C57Bl 6 0.5Gy ITCM","m":1.019,"e":0.085},{"t":118,"s":"C57Bl 6 0.5Gy ITCM","m":1.003,"e":0.086},
{"t":120,"s":"C57Bl 6 0.5Gy ITCM","m":0.988,"e":0.087},{"t":122,"s":"C57Bl 6 0.5Gy ITCM","m":0.973,"e":0.088},{"t":124,"s":"C57Bl 6 0.5Gy ITCM","m":0.958,"e":0.089},{"t":126,"s":"C57Bl 6 0.5Gy ITCM","m":0.943,"e":0.09},{"t":128,"s":"C57Bl 6 0.5Gy ITCM","m":0.928,"e":0.09},{"t":130,"s":"C57Bl 6 0.5Gy ITCM","m":0.913,"e":0.09},{"t":132,"s":"C57Bl 6 0.5Gy ITCM","m":0.899,"e":0.09},{"t":134,"s":"C57Bl 6 0.5Gy ITCM","m":0.885,"e":0.09},{"t":136,"s":"C57Bl 6 0.5Gy ITCM","m":0.871,"e":0.09},{"t":138,"s":"C57Bl 6 0.5Gy ITCM","m":0.858,"e":0.09},
{"t":140,"s":"C57Bl 6 0.5Gy ITCM","m":0.845,"e":0.09},{"t":142,"s":"C57Bl 6 0.5Gy ITCM","m":0.832,"e":0.09},{"t":144,"s":"C57Bl 6 0.5Gy ITCM","m":0.82,"e":0.09},{"t":146,"s":"C57Bl 6 0.5Gy ITCM","m":0.808,"e":0.09},{"t":148,"s":"C57Bl 6 0.5Gy ITCM","m":0.796,"e":0.09},{"t":150,"s":"C57Bl 6 0.5Gy ITCM","m":0.785,"e":0.088},{"t":152,"s":"C57Bl 6 0.5Gy ITCM","m":0.774,"e":0.087},{"t":154,"s":"C57Bl 6 0.5Gy ITCM","m":0.763,"e":0.086},{"t":156,"s":"C57Bl 6 0.5Gy ITCM","m":0.753,"e":0.085},{"t":158,"s":"C57Bl 6 0.5Gy ITCM","m":0.743,"e":0.085},
{"t":160,"s":"C57Bl 6 0.5Gy ITCM","m":0.733,"e":0.084},{"t":162,"s":"C57Bl 6 0.5Gy ITCM","m":0.724,"e":0.083},{"t":164,"s":"C57Bl 6 0.5Gy ITCM","m":0.715,"e":0.082},{"t":166,"s":"C57Bl 6 0.5Gy ITCM","m":0.706,"e":0.082},{"t":168,"s":"C57Bl 6 0.5Gy ITCM","m":0.698,"e":0.081},{"t":170,"s":"C57Bl 6 0.5Gy ITCM","m":0.69,"e":0.08},{"t":172,"s":"C57Bl 6 0.5Gy ITCM","m":0.682,"e":0.08},{"t":174,"s":"C57Bl 6 0.5Gy ITCM","m":0.675,"e":0.08},{"t":176,"s":"C57Bl 6 0.5Gy ITCM","m":0.668,"e":0.08},{"t":178,"s":"C57Bl 6 0.5Gy ITCM","m":0.661,"e":0.08},
{"t":180,"s":"C57Bl 6 0.5Gy ITCM","m":0.654,"e":0.078},{"t":182,"s":"C57Bl 6 0.5Gy ITCM","m":0.648,"e":0.078},{"t":184,"s":"C57Bl 6 0.5Gy ITCM","m":0.642,"e":0.077},{"t":186,"s":"C57Bl 6 0.5Gy ITCM","m":0.636,"e":0.077},{"t":188,"s":"C57Bl 6 0.5Gy ITCM","m":0.63,"e":0.076},{"t":190,"s":"C57Bl 6 0.5Gy ITCM","m":0.625,"e":0.076},{"t":192,"s":"C57Bl 6 0.5Gy ITCM","m":0.62,"e":0.075},{"t":194,"s":"C57Bl 6 0.5Gy ITCM","m":0.615,"e":0.075},{"t":196,"s":"C57Bl 6 0.5Gy ITCM","m":0.61,"e":0.074},{"t":198,"s":"C57Bl 6 0.5Gy ITCM","m":0.605,"e":0.074}
      ]},
      "encoding": {
        "x": {"field": "t", "type": "quantitative", "title": "time (sec)", "scale": {"domain": [-1, 199], "nice": false, "zero": false},
              "axis": {"values": [0,2,4,6,8,10,12,14,16,18,20,22,24,26,28,30,32,34,36,38,40,42,44,46,48,50,52,54,56,58,60,62,64,66,68,70,72,74,76,78,80,82,84,86,88,90,92,94,96,98,100,102,104,106,108,110,112,114,116,118,120,122,124,126,128,130,132,134,136,138,140,142,144,146,148,150,152,154,156,158,160,162,164,166,168,170,172,174,176,178,180,182,184,186,188,190,192,194,196,198],
                       "labelExpr": "datum.value % 8 === 0 ? datum.label : ''", "labelAngle": 270, "labelFontSize": 12, "labelOverlap": false, "labelFlush": false, "labelBound": false,
                       "labelPadding": 3, "tickSize": 3, "domainWidth": 2, "titleFontSize": 15, "titlePadding": 10}},
        "y": {"field": "m", "type": "quantitative", "title": null, "scale": {"domain": [0, 1.702], "nice": false},
              "axis": {"values": [0,0.2,0.4,0.6,0.8,1,1.2,1.4,1.6], "format": "~g", "labelFontSize": 12.5, "labelPadding": 6, "tickSize": 3, "domain": false}}
      },
      "layer": [
        {"data": {"values": [{"t": -1, "a": 0, "b": 1.6}]}, "mark": {"type": "rule", "color": "black", "strokeWidth": 1.5},
         "encoding": {"y": {"field": "a", "type": "quantitative", "title": null}, "y2": {"field": "b"}}},
        {"mark": {"type": "errorbar", "ticks": {"size": 3}, "thickness": 1, "color": "#222"},
         "encoding": {"yError": {"field": "e"}}},
        {"mark": {"type": "line", "strokeWidth": 1, "color": "#222"},
         "encoding": {"detail": {"field": "s", "type": "nominal"}}},
        {"mark": {"type": "point", "shape": "square", "size": 24, "stroke": "#222", "strokeWidth": 1, "opacity": 1},
         "encoding": {"fill": {"field": "s", "type": "nominal", "scale": {"domain": ["C57Bl 6 0Gy ITCM", "C57Bl 6 0.5Gy ITCM"], "range": ["black", "white"]},
                               "legend": {"title": null, "orient": "none", "legendX": 196, "legendY": 0, "strokeColor": "#222", "fillColor": "white", "padding": 3,
                                          "symbolType": "M-1,0H-0.2M0.2,0H1M-0.2,-0.2H0.2V0.2H-0.2Z", "symbolSize": 400, "symbolStrokeColor": "#222", "symbolStrokeWidth": 1,
                                          "labelFontSize": 13, "labelOffset": 5, "rowPadding": 0, "labelLimit": 300}}}}
      ]
    }
  ],
  "spacing": 41, "bounds": "flush"
}
]
}
